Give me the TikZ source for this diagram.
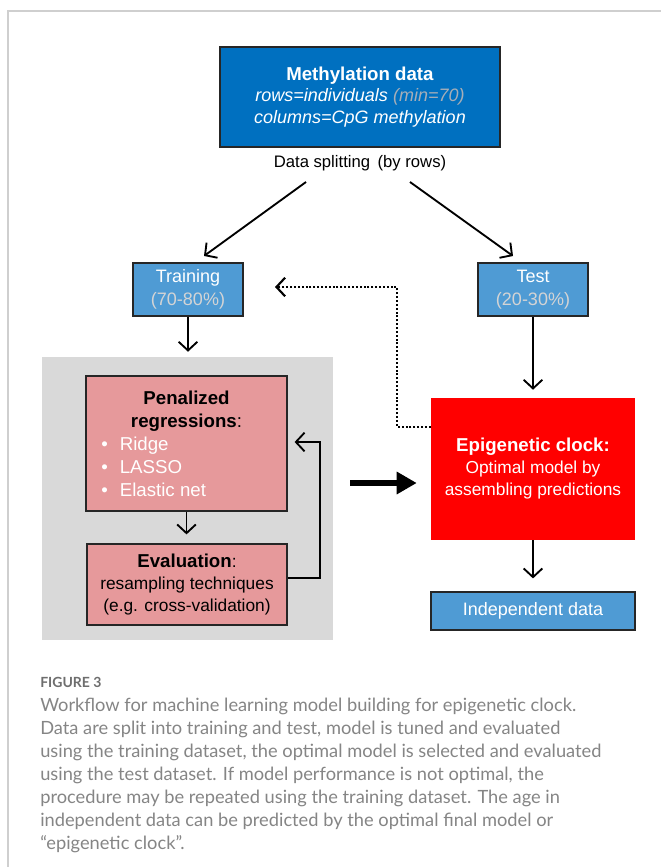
\documentclass[tikz,border=0pt]{standalone}
\usepackage{fontspec}
\setmainfont{Liberation Sans}
\newfontfamily\capfont{Lato}
\usetikzlibrary{arrows.meta,calc}
\definecolor{methblue}{HTML}{0070C0}
\definecolor{lightblue}{HTML}{4F9BD4}
\definecolor{panelgray}{HTML}{D9D9D9}
\definecolor{penpink}{HTML}{E6999B}
\definecolor{clockred}{HTML}{FF0000}
\definecolor{capgray}{HTML}{858585}
\definecolor{figgray}{HTML}{6E6E6E}
\definecolor{framegray}{HTML}{CFCFCF}
\definecolor{subgray}{HTML}{D4D4D4}
\definecolor{mingray}{HTML}{A6AEB8}
\newcommand{\bulitem}[1]{\makebox[129.75pt][l]{\color{white}\hspace{1pt}\textbullet\hspace{9pt}#1}}
\begin{document}
\begin{tikzpicture}[x=0.75pt,y=-0.75pt,
  font=\fontsize{13.5pt}{16pt}\selectfont,
  box/.style={draw=black!85, line width=0.9pt, inner sep=0pt, align=center},
  bluebox/.style={box, fill=lightblue, text=white, font=\fontsize{13.5pt}{17pt}\selectfont},
  pinkbox/.style={box, fill=penpink, text=black},
  arr/.style={line width=1.4pt, -{Straight Barb[length=6.5pt,width=14pt]}},
  dotarr/.style={line width=1.6pt, dash pattern=on 1.5pt off 1.4pt, -{Straight Barb[length=6.5pt,width=14pt]}},
  thickarr/.style={line width=5pt, -{Triangle[length=15pt,width=16pt]}},
  captext/.style={anchor=north west, inner sep=0pt, align=left, text=capgray}
]
\useasboundingbox (0,0) rectangle (661,867);
\fill[white] (0,0) rectangle (661,867);
\draw[framegray, line width=0.9pt] (8,867) -- (8,11) -- (661,11);

% top box
\node[box, fill=methblue, text=white, minimum width=210pt, minimum height=75pt] (meth) at (360,97)
  {{\fontsize{14pt}{16pt}\selectfont\textbf{Methylation data}}\\\textit{rows=individuals \textcolor{mingray}{(min=70)}}\\\textit{columns=CpG methylation}};
\node[font=\fontsize{12.5pt}{15pt}\selectfont, inner sep=0pt] (split) at (360,163) {Data splitting\hspace{0.45em}(by rows)};

% training / test
\node[bluebox, minimum width=82.5pt, minimum height=39.75pt] (train) at (188,289.5) {Training\\\textcolor{subgray}{(70-80\%)}};
\node[bluebox, minimum width=82.5pt, minimum height=39.75pt] (test) at (533,289.5) {Test\\\textcolor{subgray}{(20-30\%)}};

% gray panel
\node[fill=panelgray, minimum width=218.25pt, minimum height=212.25pt, inner sep=0pt] (panel) at (187.5,498.5) {};
\node[pinkbox, minimum width=150.75pt, minimum height=101.25pt, font=\fontsize{14pt}{17.25pt}\selectfont] (pen) at (186.5,443.5)
  {\textbf{Penalized}\\\textbf{regressions}:\\\bulitem{Ridge}\\\bulitem{LASSO}\\\bulitem{Elastic net}};
\node[pinkbox, minimum width=150pt, minimum height=60.75pt, font=\fontsize{13pt}{16.75pt}\selectfont] (eval) at (187,584.5)
  {{\fontsize{14pt}{16.75pt}\selectfont\textbf{Evaluation}}:\\resampling techniques\\(e.g. cross-validation)};

% clock and independent data
\node[fill=clockred, text=white, minimum width=153pt, minimum height=106.5pt, inner sep=0pt, align=center,
  font=\fontsize{13pt}{16.5pt}\selectfont] (clock) at (533,469)
  {{\fontsize{14pt}{16.5pt}\selectfont\textbf{Epigenetic clock:}}\\Optimal model by\\assembling predictions};
\node[bluebox, minimum width=153pt, minimum height=28.5pt] (indep) at (533,611) {Independent data};

% connectors
\coordinate (sL) at (306,182);
\coordinate (tL) at (204,256);
\coordinate (sR) at (410,182);
\coordinate (tR) at (513,256);
\coordinate (dotcorner) at (397,287);
\coordinate (dottip) at (275,287);
\draw[arr] (sL) -- (tL);
\draw[arr] (sR) -- (tR);
\draw[arr, shorten >=3.75pt] (train.south) -- (train.south |- panel.north);
\draw[arr, shorten >=6pt] (test.south) -- (clock.north);
\draw[arr, shorten >=6.75pt] (pen.south) -- (pen.south |- eval.north);
\draw[arr, shorten >=9.75pt] (clock.south) -- (indep.north);
\draw[arr] ($(eval.east)+(0,-6.5)$) -- ++(32,0) |- ($(pen.east)+(7,-1.5)$);
\draw[dotarr] ($(clock.north west)+(0,29)$) -| (dotcorner) -- (dottip);
\draw[thickarr] ($(panel.east)+(17,-15.5)$) -- ($(clock.west)+(-14,14)$);

% caption
\node[captext, text=figgray, font=\capfont\bfseries\fontsize{10.5pt}{12pt}\selectfont] (fig) at (40,677) {FIGURE 3};
\node[captext, font=\capfont\fontsize{13.7pt}{17.25pt}\selectfont] (cap) at (40,698)
  {Workflow for machine learning model building for epigenetic clock.\\
   Data are split into training and test, model is tuned and evaluated\\
   using the training dataset, the optimal model is selected and evaluated\\
   using the test dataset. If model performance is not optimal, the\\
   procedure may be repeated using the training dataset. The age in\\
   independent data can be predicted by the optimal final model or\\
   “epigenetic clock”.};
\end{tikzpicture}
\end{document}
